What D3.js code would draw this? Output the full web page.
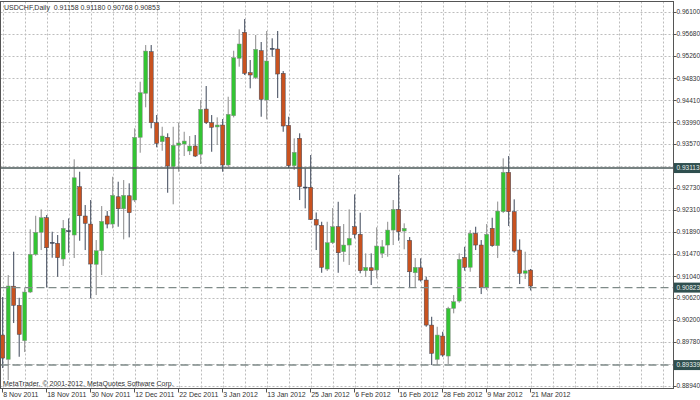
<!DOCTYPE html>
<html><head><meta charset="utf-8">
<script src="https://cdn.jsdelivr.net/npm/d3@7"></script>
<style>
html,body{margin:0;padding:0;background:#fff;}
svg{display:block;}
text{font-family:"Liberation Sans",Arial,sans-serif;}
</style></head>
<body>
<svg id="chart" width="700" height="400"></svg>
<script>
// ---- data ----
const symbolTitle = "USDCHF,Daily";
const firstDay = "2011-11-08", lastDay = "2012-03-21";
const opens = [0.89914,0.89448,0.90850,0.90483,0.89805,0.90738,0.91460,0.91881,0.92161,0.91690,
0.91671,0.91370,0.91912,0.91830,0.92755,0.92194,0.92040,0.91268,0.91529,0.92194,
0.92040,0.92563,0.92333,0.92582,0.92500,0.93701,0.94544,0.95341,0.93981,0.93617,
0.93701,0.93138,0.93548,0.93573,0.93439,0.93535,0.93376,0.94243,0.93981,0.93900,
0.93937,0.93171,0.94115,0.95215,0.95713,0.94939,0.94843,0.95360,0.94416,0.95406,
0.95393,0.94927,0.93931,0.93157,0.93682,0.92749,0.92745,0.92126,0.92015,0.91178,
0.91682,0.91989,0.91510,0.91638,0.91989,0.91843,0.91146,0.91203,0.91159,0.91479,
0.91638,0.91925,0.92322,0.91906,0.91728,0.91107,0.91203,0.90967,0.90105,0.89448,
0.89895,0.89512,0.90425,0.90565,0.91402,0.91211,0.91862,0.91638,0.90820,0.91958,
0.91625,0.92276,0.93031,0.92276,0.91542,0.91096,0.91158];
const highs = [0.90642,0.91063,0.91510,0.90628,0.90814,0.91939,0.92199,0.92322,0.92213,0.91893,
0.91830,0.92117,0.92149,0.93280,0.93042,0.92404,0.92500,0.91734,0.92385,0.92289,
0.92946,0.92851,0.92883,0.92820,0.93874,0.94766,0.95469,0.95469,0.94128,0.93904,
0.93778,0.93904,0.93981,0.93808,0.93726,0.93745,0.94416,0.94684,0.94128,0.94084,
0.94052,0.94479,0.95360,0.95770,0.95967,0.95182,0.95661,0.95527,0.95738,0.95598,
0.95738,0.94971,0.94096,0.93682,0.93778,0.93107,0.93362,0.92261,0.92084,0.92084,
0.92347,0.92467,0.92040,0.92322,0.92609,0.92257,0.91479,0.91479,0.91977,0.91734,
0.92084,0.92500,0.92979,0.92054,0.91791,0.91389,0.91383,0.91031,0.90264,0.90073,
0.89977,0.90456,0.90680,0.91479,0.91605,0.91925,0.91989,0.91734,0.92040,0.92161,
0.92471,0.93299,0.93343,0.92513,0.91747,0.91510,0.91180];
const lows = [0.89282,0.89052,0.90144,0.89498,0.89588,0.90718,0.91433,0.91542,0.90823,0.91395,
0.91031,0.91236,0.91490,0.91389,0.91720,0.91542,0.90617,0.90680,0.91063,0.91958,
0.91958,0.91989,0.91747,0.91785,0.92462,0.93406,0.94276,0.93874,0.93510,0.93444,
0.92640,0.92418,0.93042,0.93343,0.93362,0.93324,0.93190,0.93956,0.93425,0.93554,
0.93042,0.93132,0.94084,0.95054,0.94895,0.94640,0.94818,0.94096,0.94046,0.95245,
0.94454,0.93808,0.93113,0.93075,0.92500,0.92341,0.92117,0.91542,0.91107,0.91140,
0.91657,0.91107,0.91318,0.91255,0.91766,0.91096,0.91031,0.90872,0.91000,0.91389,
0.91414,0.91638,0.91720,0.91556,0.90828,0.90828,0.90939,0.90073,0.89339,0.89339,
0.89498,0.89360,0.90330,0.90533,0.91146,0.91126,0.91542,0.90699,0.90776,0.91605,
0.91389,0.92251,0.92002,0.91494,0.90891,0.90987,0.90768];
const closes = [0.89473,0.90853,0.90483,0.89927,0.90738,0.91460,0.91881,0.92161,0.91586,0.91688,
0.91395,0.91958,0.91910,0.92927,0.92199,0.92054,0.91274,0.91529,0.92092,0.92040,
0.92590,0.92333,0.92590,0.92257,0.93701,0.94556,0.95354,0.93981,0.93586,0.93726,
0.93151,0.93548,0.93592,0.93630,0.93535,0.93343,0.94238,0.93981,0.93893,0.93937,
0.93171,0.94142,0.95226,0.95489,0.94927,0.94895,0.95387,0.94429,0.95163,0.95404,
0.94914,0.93918,0.93157,0.93414,0.92755,0.92745,0.92126,0.92021,0.91211,0.91682,
0.91989,0.91490,0.91638,0.91766,0.91843,0.91146,0.91211,0.91146,0.91619,0.91605,
0.91925,0.92322,0.91893,0.91958,0.91126,0.91211,0.90967,0.90105,0.89563,0.89914,
0.89531,0.90425,0.90552,0.91364,0.91211,0.91862,0.91638,0.90820,0.91843,0.91625,
0.92289,0.93031,0.92276,0.91523,0.91096,0.91145,0.90853];
const yTicks = [0.96100,0.95680,0.95260,0.94830,0.94410,0.93990,0.93570,0.93150,0.92730,0.92310,
0.91890,0.91470,0.91040,0.90620,0.90200,0.89780,0.89360,0.88940];
const solidLevels = [0.93113];
const dashedLevels = [0.90823, 0.89339];
const copyright = "MetaTrader, \u00A9 2001-2012, MetaQuotes Software Corp.";

// trading-day calendar (weekdays)
const dates = d3.utcDay.range(new Date(firstDay+"T00:00:00Z"), d3.utcDay.offset(new Date(lastDay+"T00:00:00Z"),1))
  .filter(d => d.getUTCDay() !== 0 && d.getUTCDay() !== 6);

// ---- layout ----
const plot = {left:0.5, right:673.5, top:1.5, bottom:388.5};
const svg = d3.select("#chart");
const n = dates.length;
const x = d3.scaleLinear().domain([0, n-1]).range([2.7, 530.7]);
const y = d3.scaleLinear().domain([0.88940, 0.96100]).range([385.9, 12.1]);
const fmt = d3.format(".5f");
const fmtDate = d3.utcFormat("%-d %b %Y");
const levels = solidLevels.concat(dashedLevels);

const gridColor = "#bdbdbd";
// horizontal grid
svg.append("g").selectAll("line").data(yTicks).join("line")
  .attr("x1", plot.left).attr("x2", plot.right)
  .attr("y1", d => Math.round(y(d))+0.5).attr("y2", d => Math.round(y(d))+0.5)
  .attr("stroke", gridColor).attr("stroke-dasharray","2,2").attr("stroke-width",1);
// vertical grid (every 4 bars, continuing to the right)
const vIdx = d3.range(0, 200, 4).filter(i => x(i) < plot.right - 2);
svg.append("g").selectAll("line").data(vIdx).join("line")
  .attr("x1", i => Math.round(x(i))+0.5).attr("x2", i => Math.round(x(i))+0.5)
  .attr("y1", plot.top).attr("y2", plot.bottom)
  .attr("stroke", gridColor).attr("stroke-dasharray","2,2").attr("stroke-width",1);

// candles
const bullFill = "#33c433", bearFill = "#c9521f";
const bullLine = "#8a8a8a", bearLine = "#3c4658";
const idx = d3.range(n);
const bw = 4;
const g = svg.append("g");
g.selectAll("line.wick").data(idx).join("line").attr("class","wick")
  .attr("x1", i => x(i)).attr("x2", i => x(i))
  .attr("y1", i => y(highs[i])).attr("y2", i => y(lows[i]))
  .attr("stroke", i => closes[i] > opens[i] ? bullLine : bearLine).attr("stroke-width", 1);
g.selectAll("rect.body").data(idx).join("rect").attr("class","body")
  .attr("x", i => x(i) - bw/2)
  .attr("width", bw)
  .attr("y", i => y(Math.max(opens[i], closes[i])))
  .attr("height", i => Math.max(1, Math.abs(y(opens[i]) - y(closes[i]))))
  .attr("fill", i => {
    if (Math.abs(y(opens[i]) - y(closes[i])) < 1) return closes[i] > opens[i] ? bullLine : bearLine;
    return closes[i] > opens[i] ? bullFill : bearFill;
  })
  .attr("stroke", i => closes[i] > opens[i] ? bullLine : bearLine).attr("stroke-width", 0.5);

// level lines
svg.append("g").selectAll("line").data(dashedLevels).join("line")
  .attr("x1", plot.left).attr("x2", plot.right)
  .attr("y1", d => y(d)).attr("y2", d => y(d))
  .attr("stroke", "#7f8b89").attr("stroke-width", 1.4).attr("stroke-dasharray", "8,4");
svg.append("g").selectAll("line").data(solidLevels).join("line")
  .attr("x1", plot.left).attr("x2", plot.right)
  .attr("y1", d => y(d)).attr("y2", d => y(d))
  .attr("stroke", "#4a5858").attr("stroke-width", 1.5);

// frame
svg.append("rect").attr("x", plot.left).attr("y", plot.top)
  .attr("width", plot.right - plot.left).attr("height", plot.bottom - plot.top)
  .attr("fill", "none").attr("stroke", "#555").attr("stroke-width", 1);

// y axis labels (labels hidden under a level box are not drawn)
const ya = svg.append("g");
ya.selectAll("line").data(yTicks).join("line")
  .attr("x1", plot.right).attr("x2", plot.right + 3)
  .attr("y1", d => Math.round(y(d))+0.5).attr("y2", d => Math.round(y(d))+0.5)
  .attr("stroke", "#555");
const visibleTicks = yTicks.filter(t => levels.every(l => Math.abs(y(t) - y(l)) > 6));
ya.selectAll("text").data(visibleTicks).join("text")
  .attr("x", 676.5).attr("y", d => y(d) + 2.3)
  .attr("font-size", 6.5).attr("fill", "#333").text(d => fmt(d));

// level labels
const lv = svg.append("g");
lv.selectAll("rect").data(levels).join("rect")
  .attr("x", 674).attr("y", d => y(d) - 5).attr("width", 26).attr("height", 10)
  .attr("fill", "#2f4f4f");
lv.selectAll("text").data(levels).join("text")
  .attr("x", 676.5).attr("y", d => y(d) + 2.3)
  .attr("font-size", 6.5).attr("fill", "#e8f0ee").text(d => fmt(d));

// x axis labels
const xIdx = d3.range(0, n, 8);
const xa = svg.append("g");
xa.selectAll("line").data(xIdx).join("line")
  .attr("x1", i => Math.round(x(i)) - 0.5).attr("x2", i => Math.round(x(i)) - 0.5)
  .attr("y1", plot.bottom).attr("y2", plot.bottom + 4)
  .attr("stroke", "#555");
xa.selectAll("text").data(xIdx).join("text")
  .attr("x", i => x(i) + 0.5).attr("y", 396.5)
  .attr("font-size", 7).attr("fill", "#333").text(i => fmtDate(dates[i]));

// title & copyright
const last = n - 1;
svg.append("text").attr("x", 4).attr("y", 9.5).attr("font-size", 7).attr("fill", "#333")
  .attr("xml:space","preserve")
  .text(symbolTitle + "  " + [opens[last], highs[last], lows[last], closes[last]].map(fmt).join(" "));
svg.append("text").attr("x", 3).attr("y", 386).attr("font-size", 7).attr("fill", "#333")
  .text(copyright);
</script>
</body></html>
